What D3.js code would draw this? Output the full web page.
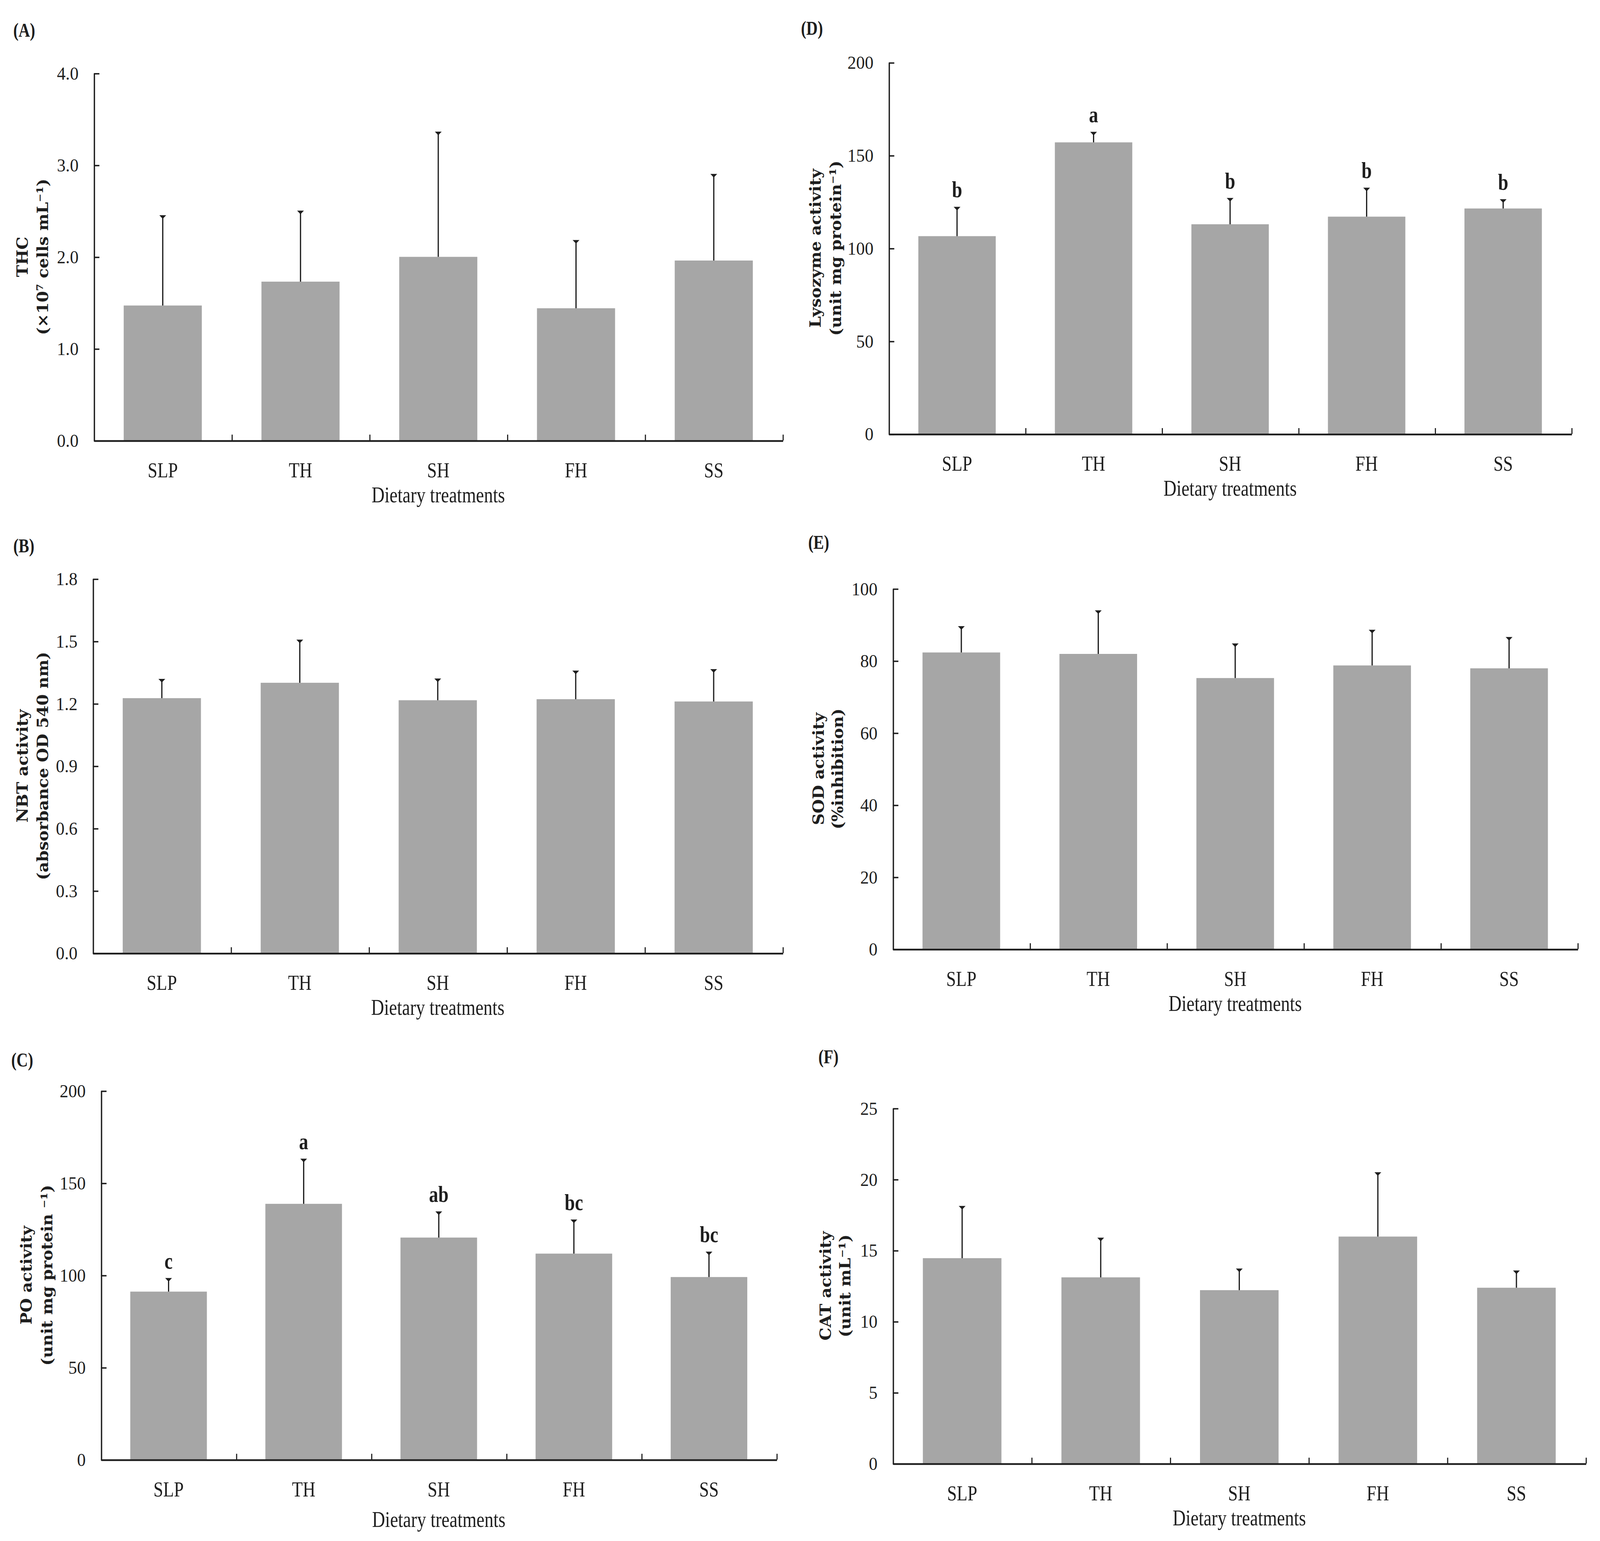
<!DOCTYPE html>
<html>
<head>
<meta charset="utf-8">
<script src="https://cdn.jsdelivr.net/npm/d3@7"></script>
<style>
  html, body { margin: 0; padding: 0; background: #fff; overflow: hidden; }
  #chart { width: 100vw; height: 100vh; }
  svg { display: block; }
</style>
</head>
<body>
<div id="chart"></div>
<script>
// Dietary treatments (x categories, shared by all panels)
const treatments = ['SLP', 'TH', 'SH', 'FH', 'SS'];

// (A) THC
const thcMean = [1.47, 1.73, 2.00, 1.44, 1.96];
const thcSD = [0.98, 0.77, 1.36, 0.74, 0.94];
const thcTicks = [0, 1, 2, 3, 4];

// (B) NBT
const nbtMean = [1.226, 1.300, 1.216, 1.221, 1.210];
const nbtSD = [0.091, 0.206, 0.103, 0.136, 0.154];
const nbtTicks = [0, 0.3, 0.6, 0.9, 1.2, 1.5, 1.8];

// (C) PO
const poMean = [91.1, 138.7, 120.4, 111.7, 99.0];
const poSD = [7.2, 24.3, 14.0, 18.3, 13.6];
const poLetters = ['c', 'a', 'ab', 'bc', 'bc'];
const poTicks = [0, 50, 100, 150, 200];

// (D) Lysozyme
const lysMean = [106.5, 157.0, 112.9, 117.0, 121.4];
const lysSD = [15.6, 5.5, 14.0, 15.4, 4.8];
const lysLetters = ['b', 'a', 'b', 'b', 'b'];
const lysTicks = [0, 50, 100, 150, 200];

// (E) SOD
const sodMean = [82.3, 81.9, 75.2, 78.7, 77.9];
const sodSD = [7.2, 12.0, 9.5, 9.8, 8.6];
const sodTicks = [0, 20, 40, 60, 80, 100];

// (F) CAT
const catMean = [14.45, 13.1, 12.2, 15.97, 12.37];
const catSD = [3.65, 2.77, 1.5, 4.5, 1.19];
const catTicks = [0, 5, 10, 15, 20, 25];

// Drawing is done in a 1568-wide coordinate system, stretched to the window
const VW = 1568, VH = 1420.4;

const panels = [
  { tag: '(A)', tagX: 13, tagY: 34, x0: 92, x1: 767, yTop: 67.5, y0: 406,
    mean: thcMean, sd: thcSD, ticks: thcTicks, fmt: d3.format('.1f'),
    label: ['THC', '(×10⁷ cells mL⁻¹)'], labX: [-70, -50], titleDy: 57 },
  { tag: '(B)', tagX: 13, tagY: 509, x0: 91, x1: 767, yTop: 533.5, y0: 878.5,
    mean: nbtMean, sd: nbtSD, ticks: nbtTicks, fmt: d3.format('.1f'),
    label: ['NBT activity', '(absorbance OD 540 nm)'], labX: [-69, -49], titleDy: 57 },
  { tag: '(C)', tagX: 11, tagY: 983, x0: 99, x1: 761, yTop: 1005.4, y0: 1345.4,
    mean: poMean, sd: poSD, letters: poLetters, ticks: poTicks, fmt: d3.format('d'),
    label: ['PO activity', '(unit mg protein ⁻¹)'], labX: [-73, -53], titleDy: 62 },
  { tag: '(D)', tagX: 785, tagY: 32, x0: 871, x1: 1540, yTop: 57.6, y0: 400,
    mean: lysMean, sd: lysSD, letters: lysLetters, ticks: lysTicks, fmt: d3.format('d'),
    label: ['Lysozyme activity', '(unit mg protein⁻¹)'], labX: [-72, -52], titleDy: 57 },
  { tag: '(E)', tagX: 792, tagY: 506, x0: 875, x1: 1546, yTop: 542.6, y0: 874.8,
    mean: sodMean, sd: sodSD, ticks: sodTicks, fmt: d3.format('d'),
    label: ['SOD activity', '(%inhibition)'], labX: [-73, -54], titleDy: 57 },
  { tag: '(F)', tagX: 802, tagY: 980, x0: 875, x1: 1554, yTop: 1021.5, y0: 1349,
    mean: catMean, sd: catSD, ticks: catTicks, fmt: d3.format('d'),
    label: ['CAT activity', '(unit mL⁻¹)'], labX: [-66, -47], titleDy: 57 }
];

const BAR = '#a6a6a6';
const INK = '#1e1e1e';
const SERIF = '"Liberation Serif", "Times New Roman", serif';
const LABEL_FONT = '"DejaVu Serif", serif';

const svg = d3.select('#chart')
  .append('svg')
  .attr('width', '100%')
  .attr('height', '100%')
  .attr('viewBox', `0 0 ${VW} ${VH}`)
  .attr('preserveAspectRatio', 'none');

svg.append('rect')
  .attr('width', VW).attr('height', VH)
  .attr('fill', '#fff');

panels.forEach(p => drawPanel(p));

function drawPanel(p) {
  const g = svg.append('g');
  const yMax = p.ticks[p.ticks.length - 1];

  // bars sit in the middle of each category slot
  const x = d3.scaleBand()
    .domain(treatments)
    .range([p.x0, p.x1])
    .paddingInner(0.433)
    .paddingOuter(0.2165);

  const y = d3.scaleLinear()
    .domain([0, yMax])
    .range([p.y0, p.yTop]);

  // boundary ticks on the x axis
  const xb = d3.scaleLinear().domain([0, treatments.length]).range([p.x0, p.x1]);

  // bars
  g.selectAll('rect.bar')
    .data(treatments)
    .join('rect')
    .attr('class', 'bar')
    .attr('x', d => x(d))
    .attr('width', x.bandwidth())
    .attr('y', (d, i) => y(p.mean[i]))
    .attr('height', (d, i) => p.y0 - y(p.mean[i]))
    .attr('fill', BAR);

  // error bars (upper only)
  const err = g.selectAll('g.err')
    .data(treatments)
    .join('g')
    .attr('class', 'err');

  err.append('line')
    .attr('x1', d => x(d) + x.bandwidth() / 2)
    .attr('x2', d => x(d) + x.bandwidth() / 2)
    .attr('y1', (d, i) => y(p.mean[i]))
    .attr('y2', (d, i) => y(p.mean[i] + p.sd[i]))
    .attr('stroke', INK)
    .attr('stroke-width', 1.2);

  err.append('path')
    .attr('d', (d, i) => {
      const cx = x(d) + x.bandwidth() / 2;
      const cy = y(p.mean[i] + p.sd[i]);
      return `M${cx - 2.6},${cy} L${cx + 2.6},${cy} L${cx},${cy + 2.6} Z`;
    })
    .attr('fill', INK)
    .attr('stroke', INK)
    .attr('stroke-width', 0.6);

  // significance letters
  if (p.letters) {
    g.selectAll('text.letter')
      .data(treatments)
      .join('text')
      .attr('class', 'letter')
      .attr('transform', (d, i) =>
        `translate(${x(d) + x.bandwidth() / 2},${y(p.mean[i] + p.sd[i]) - 9}) scale(0.86,1)`)
      .attr('text-anchor', 'middle')
      .attr('font-family', SERIF)
      .attr('font-weight', 'bold')
      .attr('font-size', 21)
      .attr('fill', INK)
      .text((d, i) => p.letters[i]);
  }

  // y axis
  const yAxis = g.append('g')
    .attr('transform', `translate(${p.x0},0)`)
    .call(d3.axisLeft(y)
      .tickValues(p.ticks)
      .tickFormat(p.fmt)
      .tickSizeInner(-5.4)
      .tickSizeOuter(0)
      .tickPadding(15));

  yAxis.select('.domain')
    .attr('stroke', INK)
    .attr('stroke-width', 1.3);
  yAxis.selectAll('.tick line')
    .attr('stroke', INK)
    .attr('stroke-width', 1.3);
  yAxis.selectAll('.tick text')
    .attr('font-family', SERIF)
    .attr('font-size', 17)
    .attr('fill', INK);

  // x axis: boundary ticks
  const xTickAxis = g.append('g')
    .attr('transform', `translate(0,${p.y0})`)
    .call(d3.axisBottom(xb)
      .tickValues(d3.range(1, treatments.length + 1))
      .tickFormat('')
      .tickSizeInner(-5.4)
      .tickSizeOuter(0));

  xTickAxis.select('.domain')
    .attr('stroke', INK)
    .attr('stroke-width', 1.6);
  xTickAxis.selectAll('.tick line')
    .attr('stroke', INK)
    .attr('stroke-width', 1.1);

  // x axis: category labels
  const xLab = g.append('g')
    .attr('transform', `translate(0,${p.y0})`)
    .call(d3.axisBottom(x).tickSize(0).tickPadding(0));

  xLab.select('.domain').remove();
  xLab.selectAll('.tick text')
    .attr('y', 34)
    .attr('dy', null)
    .attr('transform', 'scale(0.86,1)')
    .attr('font-family', SERIF)
    .attr('font-size', 20)
    .attr('fill', INK);

  // x axis title
  g.append('text')
    .attr('transform', `translate(${(p.x0 + p.x1) / 2},${p.y0 + p.titleDy}) scale(0.86,1)`)
    .attr('text-anchor', 'middle')
    .attr('font-family', SERIF)
    .attr('font-size', 20.5)
    .attr('fill', INK)
    .text('Dietary treatments');

  // y axis title (two lines)
  const yc = (p.y0 + p.yTop) / 2;
  p.label.forEach((line, k) => {
    g.append('text')
      .attr('transform', `translate(${p.x0 + p.labX[k]},${yc}) rotate(-90)`)
      .attr('text-anchor', 'middle')
      .attr('dominant-baseline', 'central')
      .attr('font-family', LABEL_FONT)
      .attr('font-weight', 'bold')
      .attr('font-size', 15)
      .attr('fill', INK)
      .text(line);
  });

  // panel tag
  g.append('text')
    .attr('transform', `translate(${p.tagX},${p.tagY}) scale(0.86,1)`)
    .attr('font-family', SERIF)
    .attr('font-weight', 'bold')
    .attr('font-size', 18)
    .attr('fill', INK)
    .text(p.tag);
}
</script>
</body>
</html>
